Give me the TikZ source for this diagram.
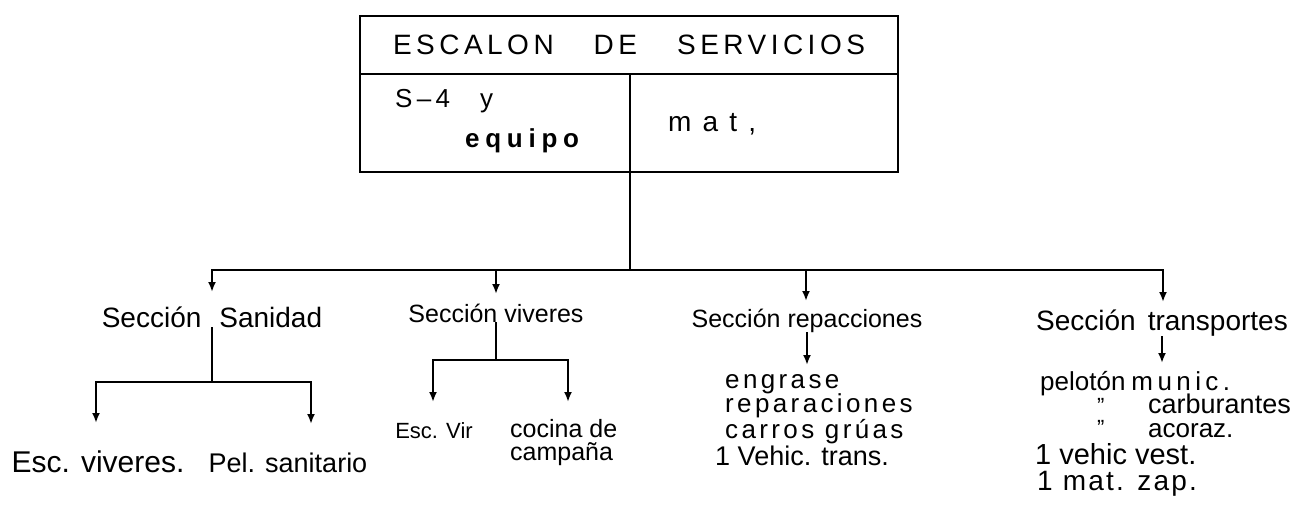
\documentclass[tikz,border=0pt]{standalone}
\usepackage{fontspec}
\setmainfont{Liberation Sans}
\usetikzlibrary{arrows.meta}
\newcommand{\fsz}[1]{\fontsize{#1}{#1}\selectfont}

\begin{document}
\begin{tikzpicture}[x=1pt,y=-1pt,
    caja/.style={draw,line width=2.6pt,inner sep=0pt,outer sep=0pt},
    linea/.style={line width=2pt},
    flecha/.style={line width=2pt,-{Latex[length=10pt,width=8pt]}},
    txt/.style={inner sep=0pt,anchor=base}]
    \useasboundingbox (0,0) rectangle (1295,521);

    % recuadro superior
    \node[caja,minimum width=538pt,minimum height=58pt,font={\fsz{28}\addfontfeatures{LetterSpace=16}}] (titulo) at (629,45) {ESCALON\hspace{40pt}DE\hspace{40pt}SERVICIOS};
    \node[caja,minimum width=270pt,minimum height=98pt,anchor=north west] (izq) at (titulo.south west) {};
    \node[caja,minimum width=268pt,minimum height=98pt,anchor=north east] (der) at (titulo.south east) {};
    \node[txt,anchor=base west,font=\fsz{26}] (s4) at (395,108) {S\,--\,4\hspace{30pt}y};
    \node[txt,anchor=base west,font={\fsz{26}\bfseries\addfontfeatures{LetterSpace=22}}] (equipo) at (465,148) {equipo};
    \node[txt,anchor=base west,font={\fsz{28}\addfontfeatures{LetterSpace=40}}] (mat) at (668,132) {mat,};

    \coordinate (bus) at (630,270);
    \draw[linea] (izq.south east) -- (bus);

    % secciones
    \node[txt,font=\fsz{28}] (sanidad) at (212,327) {Sección\hspace{18pt}Sanidad};
    \node[txt,font=\fsz{25}] (viveres) at (496,322) {Sección viveres};
    \node[txt,font=\fsz{25}] (repar) at (807,327) {Sección repacciones};
    \node[txt,font=\fsz{28}] (transp) at (1162,330) {Sección\hspace{12pt}transportes};

    \coordinate (tSan) at (212,292);
    \coordinate (tViv) at (496,294);
    \coordinate (tRep) at (806,301);
    \coordinate (tTra) at (1163,302);
    \foreach \t in {tSan,tViv,tRep,tTra}
        \draw[flecha] (bus) -| (\t);

    % sanidad
    \coordinate (sanbus) at (212,382);
    \coordinate (tEsc) at (96,423);
    \coordinate (tPel) at (311,424);
    \draw[linea] (sanidad) -- (sanbus);
    \draw[flecha] (sanbus) -| (tEsc);
    \draw[flecha] (sanbus) -| (tPel);
    \node[txt,font=\fsz{30}] (escviv) at (98,472) {Esc. viveres.};
    \node[txt,font=\fsz{27}] (pel) at (288,472) {Pel. sanitario};

    % viveres
    \coordinate (vivbus) at (496,360);
    \coordinate (tVir) at (433,402);
    \coordinate (tCoc) at (568,402);
    \draw[linea] (viveres) -- (vivbus);
    \draw[flecha] (vivbus) -| (tVir);
    \draw[flecha] (vivbus) -| (tCoc);
    \node[txt,font=\fsz{22}] (escvir) at (434,438) {Esc. Vir};
    \node[txt,anchor=base west,font=\fsz{25}] (cocina) at (510,437) {cocina de};
    \node[txt,anchor=base west,font=\fsz{25}] (campana) at (510,460) {campaña};

    % reparaciones
    \coordinate (tLis) at (807,365);
    \draw[flecha] (repar) -- (tLis);
    \foreach \t/\yy [count=\i] in {engrase/388,reparaciones/412,carros grúas/438}
        \node[txt,anchor=base west,font={\fsz{26}\addfontfeatures{LetterSpace=13}}] (rep\i) at (725,\yy) {\t};
    \node[txt,anchor=base west,font=\fsz{27}] (rep4) at (715,465) {1 Vehic. trans.};

    % transportes
    \coordinate (tMun) at (1162,363);
    \draw[flecha] (transp) -- (tMun);
    \node[txt,anchor=base west,font=\fsz{26}] (mun) at (1040,390) {pelotón\hspace{6pt}{\addfontfeatures{LetterSpace=17}munic.}};
    \node[txt,anchor=base west,font=\fsz{22}] (dit1) at (1097,413) {"};
    \node[txt,anchor=base west,font=\fsz{27}] (carb) at (1148,413) {carburantes};
    \node[txt,anchor=base west,font=\fsz{22}] (dit2) at (1097,435) {"};
    \node[txt,anchor=base west,font=\fsz{26}] (acor) at (1148,437) {acoraz.};
    \node[txt,anchor=base west,font=\fsz{29}] (vest) at (1035,464) {1 vehic vest.};
    \node[txt,anchor=base west,font={\fsz{28}\addfontfeatures{LetterSpace=8}}] (zap) at (1037,490) {1 mat. zap.};
\end{tikzpicture}
\end{document}
